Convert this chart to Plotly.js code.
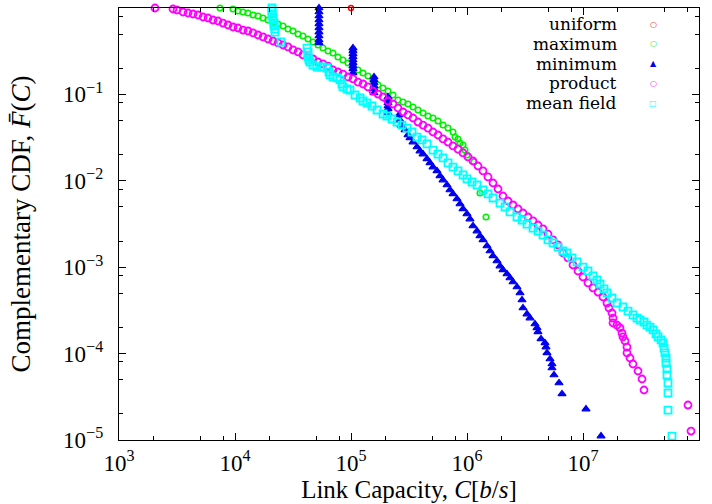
<!DOCTYPE html>
<html><head><meta charset="utf-8">
<script src="https://cdn.plot.ly/plotly-3.0.1.min.js"></script>
<style>html,body{margin:0;padding:0;background:#fff}#chart{width:712px;height:504px}</style>
</head><body><div id="chart"></div>
<script>
// ---- data (CCDF of link capacity) ----
const uniformX = [1.0e5];
const uniformY = [1];

const maximumX = [7430, 9610, 10610, 11720, 12940, 14300, 15790, 17440, 19260, 21260, 23490, 25940, 28640, 31620, 34920, 38570, 42590, 47030, 51950, 57360, 63360, 69950, 77250, 85310, 94220, 1.04e5, 1.149e5, 1.269e5, 1.402e5, 1.548e5, 1.71e5, 1.888e5, 2.084e5, 2.302e5, 2.543e5, 2.808e5, 3.101e5, 3.424e5, 3.782e5, 4.176e5, 4.612e5, 5.093e5, 5.623e5, 6.211e5, 6.86e5, 7.573e5, 7.881e5, 8.364e5, 8.704e5, 9.238e5, 9.612e5, 1.0e6, 1.149e6, 1.294e6, 1.458e6];
const maximumY = [1, 0.974, 0.923, 0.899, 0.875, 0.830, 0.808, 0.766, 0.726, 0.689, 0.653, 0.619, 0.571, 0.542, 0.500, 0.474, 0.438, 0.404, 0.373, 0.344, 0.318, 0.302, 0.271, 0.250, 0.231, 0.213, 0.1915, 0.177, 0.163, 0.147, 0.1285, 0.1186, 0.1094, 0.0984, 0.0861, 0.0817, 0.0774, 0.0715, 0.066, 0.0609, 0.0562, 0.0533, 0.0492, 0.0442, 0.0408, 0.0367, 0.0321, 0.0305, 0.0274, 0.026, 0.0227, 0.0199, 0.0165, 0.00722, 0.00381];

const minimumX = [52980, 52980, 52980, 52980, 52980, 52980, 52980, 52980, 52980, 52980,
  1.04e5, 1.04e5, 1.04e5, 1.04e5, 1.04e5, 1.04e5, 1.04e5, 1.04e5, 1.04e5,
  1.579e5, 1.579e5, 1.579e5, 1.579e5, 1.579e5, 1.579e5,
  2.084e5, 2.084e5, 2.084e5, 2.084e5, 2.084e5, 2.084e5,
  2.594e5, 2.646e5, 2.698e5, 2.922e5, 3.101e5, 3.227e5, 3.424e5, 3.707e5, 3.935e5, 4.176e5, 4.521e5, 4.797e5, 5.093e5, 5.513e5, 5.851e5, 6.211e5, 6.724e5, 7.136e5, 7.573e5, 8.2e5, 8.704e5, 9.238e5, 1.0e6, 1.061e6, 1.126e6, 1.22e6, 1.294e6, 1.374e6, 1.487e6, 1.579e6, 1.676e6, 1.814e6, 1.926e6, 2.043e6, 2.212e6, 2.349e6, 2.493e6, 2.698e6, 2.864e6, 2.98e6, 3.04e6, 3.29e6, 3.492e6, 3.857e6, 4.012e6, 4.094e6, 4.345e6, 4.703e6, 4.797e6, 4.894e6, 5.195e6, 5.405e6, 5.405e6, 5.623e6, 6.211e6, 6.593e6, 1.061e7, 1.43e7];
const minimumY = [1, 0.899, 0.808, 0.726, 0.653, 0.587, 0.527, 0.474, 0.426, 0.394,
  0.344, 0.318, 0.294, 0.271, 0.250, 0.231, 0.213, 0.197, 0.177,
  0.159, 0.147, 0.1355, 0.125, 0.1155, 0.1038,
  0.0933, 0.0861, 0.0795, 0.0734, 0.0678, 0.0609,
  0.0578, 0.0505, 0.0442, 0.0387, 0.0339, 0.0313, 0.0281, 0.0246, 0.0221, 0.0204, 0.0179, 0.0161, 0.0144, 0.0130, 0.0114, 0.0102, 0.00894, 0.00783, 0.00704, 0.00616, 0.00539, 0.00472, 0.00413, 0.00361, 0.0030, 0.00262, 0.0023, 0.00207, 0.00176, 0.00154, 0.00135, 0.00118, 0.00103, 0.00093, 0.000834, 0.00075, 0.000674, 0.00059, 0.000503, 0.000417, 0.000337, 0.000287, 0.000258, 0.00022, 0.000198, 0.000178, 0.000148, 0.000133, 0.000119, 0.000102, 8.66e-5, 7.58e-5, 6.81e-5, 5.65e-5, 4.57e-5, 3.41e-5, 2.28e-5, 1.11e-5];

const productX = [2043, 2921, 3162, 3562, 3934, 4345, 4797, 5298, 5851, 6462, 7136, 7881, 8704, 9612, 10610, 11720, 12940, 14300, 15790, 17440, 19260, 21260, 23490, 25940, 28640, 31620, 34920, 38570, 42590, 47030, 51950, 57360, 63360, 69950, 77250, 85310, 94220, 1.04e5, 1.149e5, 1.269e5, 1.402e5, 1.548e5, 1.71e5, 1.888e5, 2.084e5, 2.302e5, 2.543e5, 2.808e5, 3.101e5, 3.424e5, 3.782e5, 4.176e5, 4.612e5, 5.093e5, 5.623e5, 6.211e5, 6.86e5, 7.573e5, 8.364e5, 9.238e5, 1.02e6, 1.126e6, 1.244e6, 1.374e6, 1.517e6, 1.676e6, 1.851e6, 2.043e6, 2.256e6, 2.493e6, 2.753e6, 3.04e6, 3.357e6, 3.707e6, 4.094e6, 4.521e6, 4.993e6, 5.513e6, 6.088e6, 6.724e6, 7.425e6, 8.2e6, 9.056e6, 1.0e7, 1.104e7, 1.22e7, 1.347e7, 1.487e7, 1.61e7, 1.676e7, 1.778e7, 1.814e7, 1.814e7, 1.964e7, 2.084e7, 2.169e7, 2.212e7, 2.302e7, 2.395e7, 2.395e7, 2.543e7, 2.698e7, 2.98e7, 3.227e7, 3.357e7, 8.037e7, 8.531e7];
const productY = [1, 0.974, 0.948, 0.899, 0.875, 0.852, 0.830, 0.787, 0.766, 0.726, 0.707, 0.670, 0.636, 0.603, 0.587, 0.556, 0.542, 0.514, 0.487, 0.462, 0.438, 0.415, 0.394, 0.373, 0.354, 0.327, 0.310, 0.286, 0.271, 0.257, 0.237, 0.225, 0.213, 0.1915, 0.1816, 0.172, 0.159, 0.151, 0.139, 0.132, 0.122, 0.1094, 0.101, 0.0933, 0.0839, 0.0774, 0.0696, 0.0626, 0.0578, 0.0533, 0.0479, 0.0442, 0.0408, 0.0367, 0.0339, 0.0305, 0.0281, 0.0253, 0.0233, 0.021, 0.0189, 0.01695, 0.01483, 0.0130, 0.0111, 0.00943, 0.00804, 0.00667, 0.00584, 0.00525, 0.00472, 0.00424, 0.00381, 0.00343, 0.00308, 0.00277, 0.00242, 0.00207, 0.00181, 0.00146, 0.00128, 0.00106, 0.000904, 0.00077, 0.000657, 0.000575, 0.000516, 0.000452, 0.000385, 0.000337, 0.000295, 0.000258, 0.000226, 0.000214, 0.000198, 0.000173, 0.000156, 0.00014, 0.000119, 0.000102, 8.89e-5, 7.58e-5, 6.29e-5, 5.08e-5, 3.79e-5, 2.54e-5, 1.27e-5];

const meanFieldX = [20840, 20840, 20840, 21260, 21260, 21690, 21690, 22120, 22120, 24930, 41760, 42590, 42590, 43440, 44320, 47030, 50930, 56230, 62110, 64620, 65930, 69950, 75730, 80370, 83620, 85310, 92380, 98040, 1.083e5, 1.196e5, 1.269e5, 1.374e5, 1.517e5, 1.676e5, 1.888e5, 2.043e5, 2.256e5, 2.493e5, 2.753e5, 3.04e5, 3.357e5, 3.707e5, 4.094e5, 4.521e5, 5.093e5, 5.623e5, 6.211e5, 6.86e5, 7.573e5, 8.364e5, 9.238e5, 1.0e6, 1.104e6, 1.22e6, 1.374e6, 1.517e6, 1.676e6, 1.926e6, 2.126e6, 2.349e6, 2.698e6, 2.98e6, 3.29e6, 3.707e6, 4.094e6, 4.521e6, 4.993e6, 5.513e6, 6.088e6, 6.724e6, 7.279e6, 8.037e6, 8.878e6, 1.0e7, 1.104e7, 1.22e7, 1.32e7, 1.402e7, 1.517e7, 1.61e7, 1.778e7, 1.964e7, 2.212e7, 2.443e7, 2.698e7, 2.922e7, 3.101e7, 3.357e7, 3.562e7, 3.782e7, 4.012e7, 4.259e7, 4.432e7, 4.703e7, 4.894e7, 4.993e7, 5.093e7, 5.195e7, 5.195e7, 5.298e7, 5.298e7, 5.405e7, 5.405e7, 5.405e7, 5.851e7];
const meanFieldY = [1, 0.923, 0.852, 0.787, 0.726, 0.670, 0.619, 0.571, 0.527, 0.404, 0.344, 0.310, 0.271, 0.250, 0.237, 0.219, 0.2075, 0.2075, 0.202, 0.1816, 0.168, 0.159, 0.155, 0.147, 0.132, 0.122, 0.1155, 0.1124, 0.0984, 0.0908, 0.0839, 0.0795, 0.0734, 0.066, 0.0593, 0.0562, 0.0519, 0.0479, 0.0442, 0.0408, 0.0367, 0.0321, 0.0297, 0.0267, 0.0227, 0.0204, 0.0184, 0.0161, 0.0144, 0.0130, 0.0117, 0.0105, 0.00968, 0.00894, 0.00783, 0.00704, 0.00632, 0.00553, 0.00498, 0.00436, 0.00381, 0.00352, 0.00316, 0.00284, 0.00262, 0.00236, 0.00207, 0.00191, 0.00171, 0.00154, 0.00146, 0.00128, 0.00115, 0.001, 0.000904, 0.000791, 0.000711, 0.000639, 0.00056, 0.000503, 0.00044, 0.000385, 0.000346, 0.000311, 0.00028, 0.000258, 0.000245, 0.000232, 0.000214, 0.000203, 0.000188, 0.000169, 0.000156, 0.000144, 0.000133, 0.000116, 0.000102, 8.89e-5, 7.78e-5, 6.64e-5, 5.65e-5, 4.57e-5, 3.5e-5, 2.22e-5, 1.11e-5];

// ---- tick labels ----
const xTickVals = [1e3, 1e4, 1e5, 1e6, 1e7, 1e8];
const xTickText = ['10<sup>3</sup>', '10<sup>4</sup>', '10<sup>5</sup>', '10<sup>6</sup>', '10<sup>7</sup>', '10<sup>8</sup>'];
const yTickVals = [1e-5, 1e-4, 1e-3, 1e-2, 1e-1, 1];
const yTickText = ['10<sup>\u22125</sup>', '10<sup>\u22124</sup>', '10<sup>\u22123</sup>', '10<sup>\u22122</sup>', '10<sup>\u22121</sup>', '1'];
const xMinorVals = [2e3, 5e3, 8e3, 2e4, 5e4, 8e4, 2e5, 5e5, 8e5, 2e6, 5e6, 8e6, 2e7, 5e7, 8e7];
const yMinorVals = [2e-5, 5e-5, 8e-5, 2e-4, 5e-4, 8e-4, 2e-3, 5e-3, 8e-3, 2e-2, 5e-2, 8e-2, 0.2, 0.5, 0.8];

const seriesNames = ['uniform', 'maximum', 'minimum', 'product', 'mean field'];
const seriesColors = ['#ff0000', '#00f000', '#0000ee', '#ff00ff', '#00ffff'];
const legendGlyphs = ['\u25CB', '\u25CB', '\u25B2', '\u25CB', '\u25A1'];

const xs = [uniformX, maximumX, minimumX, productX, meanFieldX];
const ys = [uniformY, maximumY, minimumY, productY, meanFieldY];
const symbols = ['circle-open', 'circle-open', 'triangle-up', 'circle-open', 'square-open'];
const sizes = [5, 5.5, 7, 7, 7];
const strokes = [1.4, 1.6, 1.2, 1.8, 1.8];

const traces = xs.map((x, i) => ({
  type: 'scatter', mode: 'markers', name: seriesNames[i],
  x: x, y: ys[i], cliponaxis: false, showlegend: false,
  marker: {symbol: symbols[i], size: sizes[i], color: seriesColors[i],
           line: {color: seriesColors[i], width: strokes[i]}}
}));

const font = 'Liberation Serif, Times New Roman, serif';
const annotations = [];
seriesNames.forEach((n, i) => {
  const cy = 24 + 19.8 * i;            // legend row center (px from top)
  annotations.push({xref: 'paper', yref: 'paper', x: 0.8603, y: (440 - cy) / 432,
    xanchor: 'right', yanchor: 'middle', text: n, showarrow: false, borderpad: 0,
    font: {family: 'DejaVu Serif', size: 17, color: '#000'}});
  annotations.push({xref: 'paper', yref: 'paper', x: 0.9207, y: (440 - cy) / 432,
    xanchor: 'center', yanchor: 'middle', text: legendGlyphs[i], showarrow: false, borderpad: 0,
    font: {family: 'DejaVu Sans', size: 8, color: seriesColors[i]}});
});

const axisCommon = {
  type: 'log', tickmode: 'array', ticks: 'inside', ticklen: 7, tickwidth: 1, tickcolor: '#000',
  showline: true, linecolor: '#000', linewidth: 1.2, mirror: 'ticks',
  showgrid: false, zeroline: false, automargin: false,
  tickfont: {family: font, size: 23, color: '#000'}
};

const layout = {
  width: 712, height: 504,
  margin: {l: 119, r: 13, t: 8, b: 64, pad: 0},
  paper_bgcolor: '#fff', plot_bgcolor: '#fff',
  showlegend: false,
  font: {family: font, color: '#000'},
  xaxis: Object.assign({}, axisCommon, {
    range: [3, 8], tickvals: xTickVals, ticktext: xTickText, ticklabelstandoff: 2,
    minor: {tickmode: 'array', tickvals: xMinorVals, ticks: 'inside', ticklen: 4, tickcolor: '#000', tickwidth: 1, showgrid: false},
    title: {text: 'Link Capacity, <i>C</i>[<i>b</i>/<i>s</i>]', font: {family: font, size: 25, color: '#000'}, standoff: 4}
  }),
  yaxis: Object.assign({}, axisCommon, {
    range: [-5, 0], tickvals: yTickVals, ticktext: yTickText, ticklabelstandoff: 10,
    minor: {tickmode: 'array', tickvals: yMinorVals, ticks: 'inside', ticklen: 4, tickcolor: '#000', tickwidth: 1, showgrid: false},
    title: {text: 'Complementary CDF, <i>F\u0304</i>(<i>C</i>)', font: {family: font, size: 27, color: '#000'}, standoff: 24}
  }),
  annotations: annotations
};

Plotly.newPlot('chart', traces, layout, {staticPlot: true, displayModeBar: false});
</script>
</body></html>
